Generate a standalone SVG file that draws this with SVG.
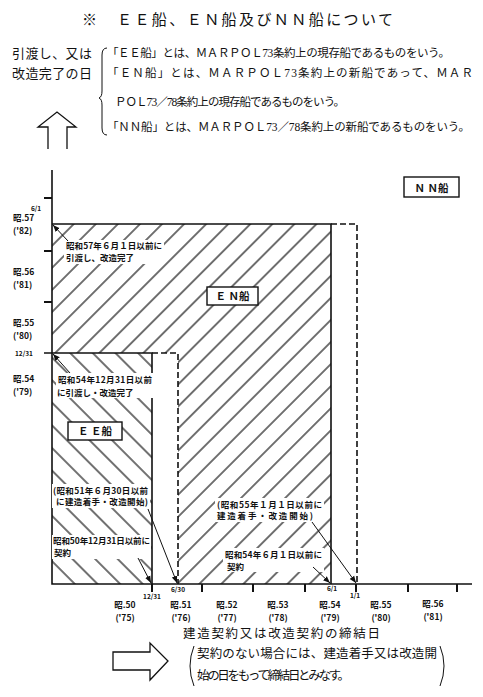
<svg xmlns="http://www.w3.org/2000/svg" width="483" height="697" viewBox="0 0 483 697">
<style>
text{font-family:"Noto Sans CJK JP","Noto Sans CJK SC",sans-serif;fill:#111}
.t{font-size:15px}
.lg{font-size:11.5px;font-family:"Liberation Serif","Noto Sans CJK JP",serif}
.lh{font-size:13px}
.an{font-size:8.5px;font-weight:bold}
.ax{font-size:8.5px;font-weight:bold}
.sm{font-size:6.5px;font-weight:bold}
.bx{font-size:10.5px;font-weight:bold}
.bt{font-size:12.5px}
.ln{stroke:#111;stroke-width:1.6;fill:none}
.ds{stroke:#111;stroke-width:1.6;fill:none;stroke-dasharray:6 3}
.tk{stroke:#111;stroke-width:2;fill:none}
.ld{stroke:#111;stroke-width:1;fill:none;marker-end:url(#ah)}
.wb{fill:#fff}
.box{fill:#fff;stroke:#111;stroke-width:1.4}
.ol{fill:#fff;stroke:#111;stroke-width:1.3}
</style>
<defs>
<pattern id="hf" patternUnits="userSpaceOnUse" width="15.6" height="15.6" patternTransform="rotate(45)">
<line x1="7.8" y1="0" x2="7.8" y2="15.6" stroke="#111" stroke-width="1.2"/>
</pattern>
<pattern id="hb" patternUnits="userSpaceOnUse" width="16" height="16" patternTransform="rotate(-45)">
<line x1="8" y1="0" x2="8" y2="16" stroke="#111" stroke-width="1.2"/>
</pattern>
<marker id="ah" viewBox="0 0 10 10" refX="10" refY="5" markerWidth="7" markerHeight="7" orient="auto" markerUnits="userSpaceOnUse">
<path d="M0,1 L10,5 L0,9 z" fill="#111"/>
</marker>
</defs>
<rect width="483" height="697" fill="#fff"/>

<g id="title">
<text class="t" x="82" y="24.5">※</text>
<text class="t" x="117" y="24.5" textLength="276" lengthAdjust="spacing">ＥＥ船、ＥＮ船及びＮＮ船について</text>
</g>

<g id="legend">
<text class="lh" x="12" y="58" textLength="80" lengthAdjust="spacing">引渡し、又は</text>
<text class="lh" x="12" y="78" textLength="80" lengthAdjust="spacing">改造完了の日</text>
<path class="ln" style="stroke-width:1" d="M107,48 Q102,48 102,55 V91 Q102,97 99,98 Q102,99 102,105 V128 Q102,135 107,135"/>
<text class="lg" x="107" y="57" textLength="343" lengthAdjust="spacing">「ＥＥ船」とは、ＭＡＲＰＯＬ73条約上の現存船であるものをいう。</text>
<text class="lg" x="107" y="77" textLength="366" lengthAdjust="spacing">「ＥＮ船」とは、ＭＡＲＰＯＬ73条約上の新船であって、ＭＡＲ</text>
<text class="lg" x="115" y="106" textLength="230" lengthAdjust="spacing">ＰＯＬ73／78条約上の現存船であるものをいう。</text>
<text class="lg" x="107" y="131" textLength="363" lengthAdjust="spacing">「ＮＮ船」とは、ＭＡＲＰＯＬ73／78条約上の新船であるものをいう。</text>
<path class="ol" d="M48,149 V127 H38 L57,112 L76,127 H67 V149"/>
</g>

<g id="en-region">
<path d="M52,224 H331 V584 H178 V353 H52 Z" fill="url(#hf)"/>
<path class="ln" d="M52,224 H331 V584"/>
<path class="ds" d="M331,224 H357 V584"/>
</g>

<g id="ee-region">
<rect x="52" y="353" width="100" height="231" fill="url(#hb)"/>
<path class="ln" d="M44,353 H152 V584"/>
<path class="ds" d="M152,353 H178 V584"/>
</g>

<g id="axes">
<path class="ln" d="M52,170 V584 H472"/>
<path class="tk" d="M44,198 H52 M44,251 H52 M44,302 H52"/>
<path class="tk" d="M152,584 V592 M202,584 V592 M253,584 V592 M305,584 V592 M356,584 V592 M408,584 V592 M457,584 V592"/>
<text class="sm" x="31" y="211">6/1</text>
<text class="ax" x="13" y="221">昭.57</text>
<text class="ax" x="13" y="234">('82)</text>
<text class="ax" x="13" y="275">昭.56</text>
<text class="ax" x="13" y="288">('81)</text>
<text class="ax" x="13" y="326">昭.55</text>
<text class="ax" x="13" y="339">('80)</text>
<text class="sm" x="15" y="356">12/31</text>
<text class="ax" x="13" y="382">昭.54</text>
<text class="ax" x="13" y="395">('79)</text>
<g text-anchor="middle">
<text class="ax" x="125" y="608">昭.50</text><text class="ax" x="125" y="621">('75)</text>
<text class="ax" x="181" y="608">昭.51</text><text class="ax" x="181" y="621">('76)</text>
<text class="ax" x="227" y="608">昭.52</text><text class="ax" x="227" y="621">('77)</text>
<text class="ax" x="278" y="608">昭.53</text><text class="ax" x="278" y="621">('78)</text>
<text class="ax" x="330" y="608">昭.54</text><text class="ax" x="330" y="621">('79)</text>
<text class="ax" x="381" y="608">昭.55</text><text class="ax" x="381" y="621">('80)</text>
<text class="ax" x="433" y="607">昭.56</text><text class="ax" x="433" y="620">('81)</text>
<text class="sm" x="152" y="599">12/31</text>
<text class="sm" x="178" y="592">6/30</text>
<text class="sm" x="332" y="591">6/1</text>
<text class="sm" x="355" y="598">1/1</text>
</g>
</g>

<g id="nn-label">
<rect class="box" x="404" y="177" width="55" height="20"/>
<text class="bx" x="431.5" y="191.5" text-anchor="middle">Ｎ Ｎ船</text>
</g>
<g id="en-label">
<rect class="box" x="207" y="287" width="51" height="18"/>
<text class="bx" x="232.5" y="300" text-anchor="middle">Ｅ Ｎ船</text>
</g>
<g id="ee-label">
<rect class="box" x="68" y="422" width="54" height="18"/>
<text class="bx" x="95" y="435" text-anchor="middle">Ｅ Ｅ船</text>
</g>

<g id="note-57">
<rect class="wb" x="64" y="240" width="100" height="24"/>
<text class="an" x="66" y="249" textLength="96" lengthAdjust="spacing">昭和57年６月１日以前に</text>
<text class="an" x="66" y="261">引渡し、改造完了</text>
</g>
<g id="note-54">
<rect class="wb" x="56" y="373" width="97" height="25"/>
<text class="an" x="58" y="383" textLength="94" lengthAdjust="spacing">昭和54年12月31日以前</text>
<text class="an" x="57" y="396">に引渡し・改造完了</text>
</g>
<g id="note-51">
<rect class="wb" x="52" y="484" width="98" height="24"/>
<text class="an" x="53" y="494" textLength="95" lengthAdjust="spacing">(昭和51年６月30日以前</text>
<text class="an" x="56" y="505" textLength="92" lengthAdjust="spacing">に建造着手・改造開始)</text>
</g>
<g id="note-50">
<rect class="wb" x="52" y="535" width="99" height="24"/>
<text class="an" x="53" y="544" textLength="97" lengthAdjust="spacing">昭和50年12月31日以前に</text>
<text class="an" x="54" y="556">契約</text>
</g>
<g id="note-55">
<rect class="wb" x="215" y="498" width="109" height="24"/>
<text class="an" x="217" y="508" textLength="105" lengthAdjust="spacing">(昭和55年１月１日以前に</text>
<text class="an" x="217" y="519" textLength="96" lengthAdjust="spacing">建造着手・改造開始)</text>
</g>
<g id="note-54b">
<rect class="wb" x="223" y="548" width="101" height="24"/>
<text class="an" x="225" y="558" textLength="97" lengthAdjust="spacing">昭和54年６月１日以前に</text>
<text class="an" x="227" y="570">契約</text>
</g>

<g id="connectors">
<line class="ld" x1="68" y1="241" x2="53" y2="225"/>
<line class="ld" x1="70" y1="373" x2="53" y2="354"/>
<line class="ld" x1="148" y1="509" x2="177" y2="583"/>
<line class="ld" x1="138" y1="558" x2="151" y2="583"/>
<line class="ld" x1="312" y1="522" x2="356" y2="583"/>
<line class="ld" x1="313" y1="567" x2="330" y2="583"/>
</g>

<g id="bottom">
<text class="bt" x="183" y="638" textLength="197" lengthAdjust="spacing">建造契約又は改造契約の締結日</text>
<path class="ol" d="M113,652 H150 V643 L168,661 L150,680 V670 H113 Z"/>
<path class="ln" style="stroke-width:1" d="M194,646 Q186,666 194,686"/>
<path class="ln" style="stroke-width:1" d="M440,646 Q448,666 440,686"/>
<text class="bt" x="197" y="658" textLength="240" lengthAdjust="spacing">契約のない場合には、建造着手又は改造開</text>
<text class="bt" x="197" y="680" textLength="153" lengthAdjust="spacing">始の日をもって締結日とみなす。</text>
</g>
</svg>
